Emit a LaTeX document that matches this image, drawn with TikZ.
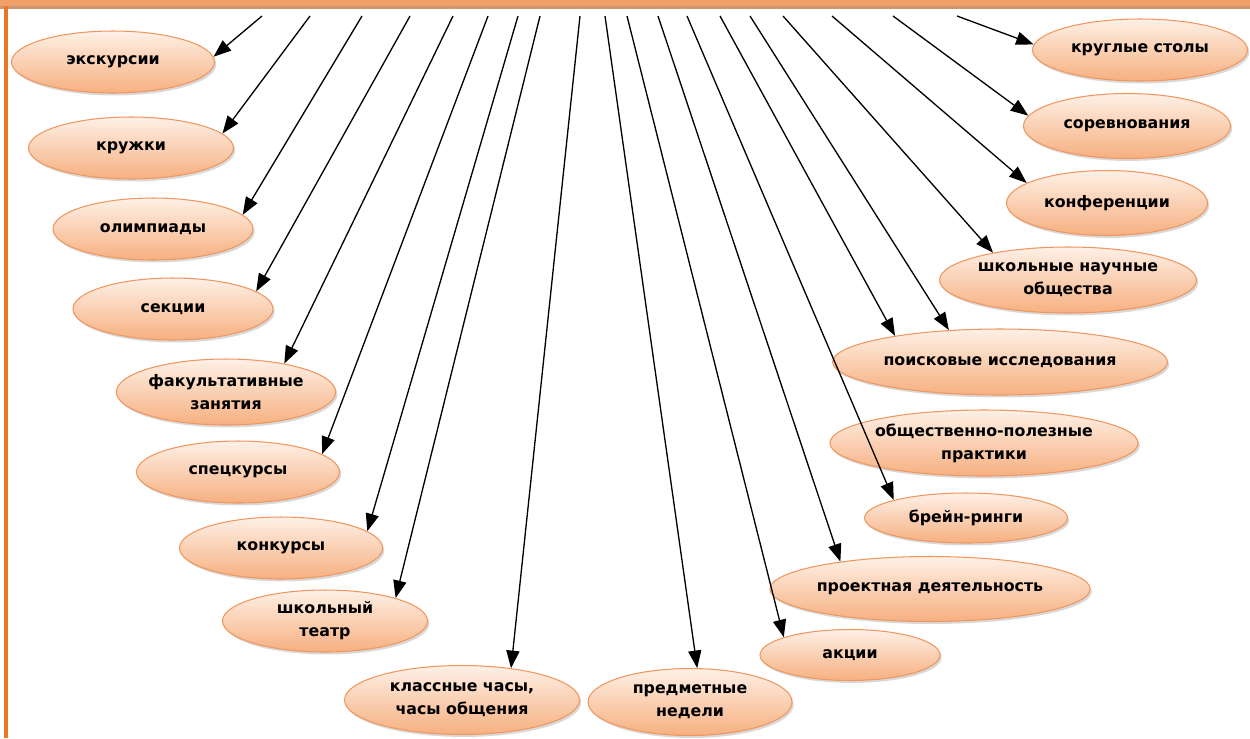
\documentclass[tikz,border=0pt]{standalone}
\usepackage{fontspec}
\setmainfont{DejaVu Sans}
\usepackage{tikz}
\usetikzlibrary{arrows.meta, shapes.geometric, shadows}
\definecolor{OE}{RGB}{240,150,95}
\definecolor{PT}{RGB}{254,240,230}
\definecolor{PB}{RGB}{246,176,128}
\definecolor{BAR}{RGB}{242,160,105}
\definecolor{LL}{RGB}{232,120,35}

\begin{document}
\begin{tikzpicture}[
  x=0.02cm, y=-0.02cm,
  blob/.style={ellipse, draw=OE, line width=0.6pt, top color=PT, bottom color=PB,
               minimum width=4cm, minimum height=1.24cm, inner sep=0pt,
               align=center, font=\fontsize{9}{13}\selectfont\bfseries,
               drop shadow={opacity=0.3, shadow xshift=1pt, shadow yshift=-1.4pt}},
  conn/.style={draw=black, line width=0.75pt, -{Triangle[length=10pt, width=7.5pt]}}
]
\useasboundingbox (0,0) rectangle (1250,738);

% Frame
\fill[BAR!70!gray] (0,5) rectangle (1250,9);
\fill[BAR] (0,0) rectangle (1250,6);
\fill[LL] (4,6) rectangle (8,738);

% Left branch
\node[blob, minimum width=4.06cm] (exk)    at (113,62)  {экскурсии};
\node[blob, minimum width=4.1cm]  (kruzh)  at (131,148) {кружки};
\node[blob]                       (olimp)  at (153,229) {олимпиады};
\node[blob]                       (sekc)   at (173,309) {секции};
\node[blob, minimum width=4.24cm, minimum height=1.32cm] (fakult) at (226,392) {факультативные\\занятия};
\node[blob, minimum width=4.06cm] (spec)   at (238,472) {спецкурсы};
\node[blob, minimum width=4.06cm] (konk)   at (281,548) {конкурсы};
\node[blob, minimum width=4.1cm]  (teatr)  at (325,621) {школьный\\театр};
\node[blob, minimum width=4.7cm, minimum height=1.38cm]  (klass)  at (462,700) {классные часы,\\часы общения};

% Right branch
\node[blob, minimum width=4.08cm, minimum height=1.34cm] (predm)  at (690,702) {предметные\\недели};
\node[blob, minimum width=3.6cm, minimum height=1.02cm]  (akcii)  at (850,655) {акции};
\node[blob, minimum width=6.4cm, minimum height=1.3cm]   (proekt) at (930,589) {проектная деятельность};
\node[blob, minimum width=4.06cm, minimum height=1.0cm]  (brein)  at (966,518) {брейн-ринги};
\node[blob, minimum width=5.16cm, minimum height=1.32cm] (obsch)  at (984,443) {общественно-полезные\\практики};
\node[blob, minimum width=6.7cm, minimum height=1.32cm]  (poisk)  at (1000,362) {поисковые исследования};
\node[blob, minimum width=5.14cm, minimum height=1.32cm] (shno)   at (1068,280) {школьные научные\\общества};
\node[blob, minimum width=4.02cm, minimum height=1.3cm]  (konf)   at (1107,203) {конференции};
\node[blob, minimum width=4.14cm, minimum height=1.3cm]  (sorev)  at (1127,126) {соревнования};
\node[blob, minimum width=4.3cm]  (krugl)  at (1140,50)  {круглые столы};

% Arrow starts under the bar
\coordinate (t1)  at (262,16);
\coordinate (t2)  at (310,16);
\coordinate (t3)  at (362,16);
\coordinate (t4)  at (410,16);
\coordinate (t5)  at (453,16);
\coordinate (t6)  at (488,16);
\coordinate (t7)  at (518,16);
\coordinate (t8)  at (540,16);
\coordinate (t9)  at (580,16);
\coordinate (t10) at (605,16);
\coordinate (t11) at (627,16);
\coordinate (t12) at (658,16);
\coordinate (t13) at (687,16);
\coordinate (t14) at (720,16);
\coordinate (t15) at (750,16);
\coordinate (t16) at (783,16);
\coordinate (t17) at (832,16);
\coordinate (t18) at (893,16);
\coordinate (t19) at (957,16);

% Connections
\draw[conn] (t1)--(exk.3);
\draw[conn] (t2)--(kruzh.9);
\draw[conn] (t3)--(olimp.9);
\draw[conn] (t4)--(sekc.12);
\draw[conn] (t5)--(fakult.26);
\draw[conn] (t6)--(spec.12);
\draw[conn] (t7)--(konk.11);
\draw[conn] (t8)--(teatr.18);
\draw[conn] (t9)--(klass.33);
\draw[conn] (t10)--(predm.78);
\draw[conn] (t11)--(akcii.165);
\draw[conn] (t12)--(proekt.163);
\draw[conn] (t13)--(brein.166);
\draw[conn] (t14)--(poisk.166);
\draw[conn] (t15)--(poisk.148);
\draw[conn] (t16)--(shno.160);
\draw[conn] (t17)--(konf.166);
\draw[conn] (t18)--(sorev.174);
\draw[conn] (t19)--(krugl.177);
\end{tikzpicture}
\end{document}
